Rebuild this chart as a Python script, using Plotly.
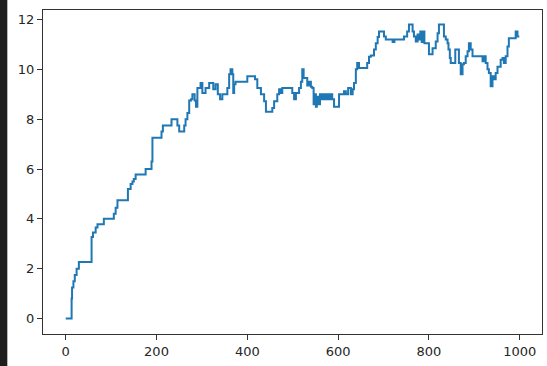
import plotly.graph_objects as go

# Step breakpoints (episode index, value)
episode = [0, 13, 14, 17, 20, 24, 29, 57, 60, 66, 70, 84, 106, 110, 114, 137, 143, 147, 150, 154,
           176, 189, 191, 211, 214, 233, 246, 250, 261, 264, 268, 272, 276, 279, 284, 287, 290,
           297, 301, 308, 316, 325, 330, 335, 340, 345, 356, 360, 363, 367, 369, 371, 374, 400,
           417, 422, 430, 437, 441, 455, 459, 466, 470, 474, 477, 499, 503, 507, 514, 518, 521,
           524, 532, 536, 540, 543, 546, 548, 551, 553, 556, 560, 563, 567, 571, 575, 579, 583,
           587, 591, 602, 613, 617, 622, 628, 632, 635, 639, 642, 646, 664, 668, 672, 679, 683,
           687, 690, 701, 705, 720, 724, 745, 752, 756, 764, 767, 771, 775, 778, 781, 784, 787,
           790, 800, 808, 815, 819, 822, 833, 837, 841, 843, 846, 848, 858, 866, 870, 874, 877,
           881, 885, 888, 892, 896, 918, 921, 925, 929, 932, 936, 940, 943, 947, 951, 958, 962,
           965, 969, 973, 976, 991, 995, 999]
value = [0.0, 0.8, 1.25, 1.5, 1.75, 2.0, 2.27, 3.27, 3.45, 3.65, 3.78, 4.0, 4.2, 4.45, 4.75, 5.2,
         5.4, 5.5, 5.6, 5.78, 6.0, 6.3, 7.25, 7.5, 7.75, 8.0, 7.75, 7.5, 7.75, 8.0, 8.25, 8.75,
         8.8, 9.0, 8.75, 8.5, 9.25, 9.45, 9.05, 9.25, 9.45, 9.2, 9.4, 9.0, 8.8, 9.0, 9.25, 9.8,
         10.0, 9.8, 9.05, 9.4, 9.5, 9.72, 9.6, 9.25, 9.0, 8.72, 8.3, 8.45, 8.72, 9.0, 9.2, 9.05,
         9.25, 9.05, 8.8, 9.05, 9.25, 9.5, 10.0, 9.65, 9.35, 9.5, 9.3, 9.25, 8.6, 9.0, 8.5, 8.9,
         8.6, 9.0, 8.8, 9.0, 8.8, 9.0, 8.8, 9.0, 8.8, 8.5, 9.0, 9.12, 9.0, 9.25, 9.0, 9.2, 9.45,
         10.0, 10.25, 10.05, 10.25, 10.5, 10.55, 10.8, 11.05, 11.3, 11.52, 11.32, 11.2, 11.1,
         11.2, 11.32, 11.52, 11.8, 11.52, 11.32, 11.12, 11.4, 11.2, 11.52, 11.1, 11.52, 11.05,
         10.6, 10.85, 11.12, 11.45, 11.8, 11.32, 11.2, 11.05, 10.8, 10.45, 10.25, 10.8, 10.25,
         9.8, 10.2, 10.25, 10.52, 10.72, 11.05, 10.8, 10.52, 10.32, 10.52, 10.25, 10.0, 9.85,
         9.32, 9.72, 9.6, 9.85, 10.1, 10.38, 10.45, 10.25, 10.52, 10.92, 11.25, 11.52, 11.32,
         11.32]

x_ticks = [0, 200, 400, 600, 800, 1000]
y_ticks = [0, 2, 4, 6, 8, 10, 12]

fig = go.Figure()
fig.add_trace(go.Scatter(x=episode, y=value, mode="lines", line_shape="hv",
                         line=dict(color="#1f77b4", width=2), showlegend=False,
                         hoverinfo="skip"))

axis_common = dict(showgrid=False, zeroline=False, showline=True, linecolor="#333333",
                   linewidth=1, mirror=True, ticks="outside", ticklen=5, tickwidth=1,
                   tickcolor="#333333", tickfont=dict(family="DejaVu Sans", size=13, color="#262626"))

fig.update_xaxes(range=[-50, 1049], tickvals=x_ticks, ticktext=[str(v) for v in x_ticks],
                 **axis_common)
fig.update_yaxes(range=[-0.62, 12.38], tickvals=y_ticks, ticktext=[str(v) for v in y_ticks],
                 **axis_common)

# dark strip at the left edge of the screenshot
fig.add_shape(type="rect", xref="paper", yref="paper", x0=-0.09, x1=-0.0715, y0=-0.2, y1=1.1,
              fillcolor="#1e1e1e", line_width=0, layer="below")

fig.update_layout(width=547, height=366, margin=dict(l=43, r=5, t=10, b=32),
                  plot_bgcolor="white", paper_bgcolor="white")

fig.write_html("out.html")
